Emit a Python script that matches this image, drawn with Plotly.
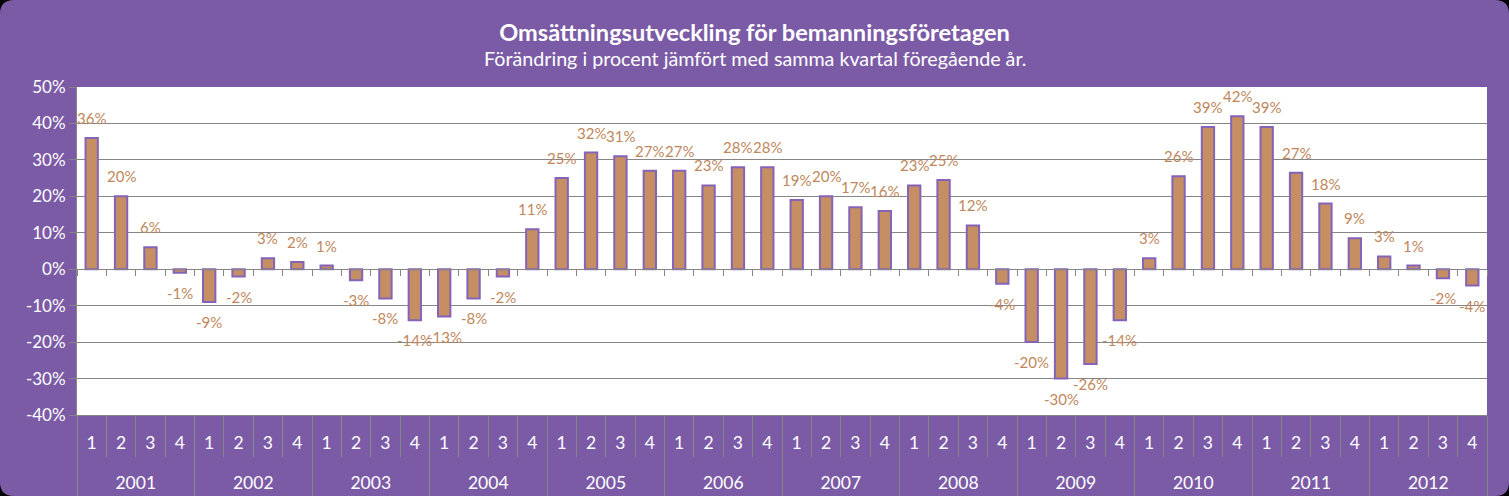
import plotly.graph_objects as go

years = ["2001", "2002", "2003", "2004", "2005", "2006", "2007", "2008", "2009", "2010", "2011", "2012"]
quarters = ["1", "2", "3", "4"]
values = [
    36, 20, 6, -1,
    -9, -2, 3, 2,
    1, -3, -8, -14,
    -13, -8, -2, 11,
    25, 32, 31, 27,
    27, 23, 28, 28,
    19, 20, 17, 16,
    23, 24.5, 12, -4,
    -20, -30, -26, -14,
    3, 25.5, 39, 42,
    39, 26.5, 18, 8.5,
    3.5, 1, -2.5, -4.5,
]
labels = [
    "36%", "20%", "6%", "-1%",
    "-9%", "-2%", "3%", "2%",
    "1%", "-3%", "-8%", "-14%",
    "-13%", "-8%", "-2%", "11%",
    "25%", "32%", "31%", "27%",
    "27%", "23%", "28%", "28%",
    "19%", "20%", "17%", "16%",
    "23%", "25%", "12%", "-4%",
    "-20%", "-30%", "-26%", "-14%",
    "3%", "26%", "39%", "42%",
    "39%", "27%", "18%", "9%",
    "3%", "1%", "-2%", "-4%",
]
yticks = [-40, -30, -20, -10, 0, 10, 20, 30, 40, 50]
ytick_text = ["-40%", "-30%", "-20%", "-10%", "0%", "10%", "20%", "30%", "40%", "50%"]

PURPLE = "#7B5BA6"
BAR = "#C68F63"
LABEL = "#C0875C"
GRID = "#868686"
FONT = "Lato, Calibri, sans-serif"

W, H = 1509, 496
ML, MR, MT, MB = 77, 22, 87, 81

nq = len(quarters)
n = len(values)
x_cat = [f"{y}-{q}" for y in years for q in quarters]
q_text = [q for _ in years for q in quarters]
q_bounds = [i - 0.5 for i in range(n + 1)]
y_bounds = [i * nq - 0.5 for i in range(len(years) + 1)]
y_centers = [i * nq + (nq - 1) / 2 for i in range(len(years))]
xr = [-0.5, n - 0.5]

fig = go.Figure()
fig.add_trace(go.Bar(
    x=x_cat, y=values,
    marker=dict(color=BAR, line=dict(color="#8463B8", width=2)),
    width=0.42, hoverinfo="skip", showlegend=False,
))
# invisible helper traces that carry the extra category/separator axes
for ax in ["x2", "x3", "x4"]:
    fig.add_trace(go.Scatter(x=xr, y=[0, 0], xaxis=ax, mode="markers",
                             marker=dict(opacity=0), showlegend=False, hoverinfo="skip"))

annotations = []
for c, v, t in zip(x_cat, values, labels):
    annotations.append(dict(
        x=c, y=v, xref="x", yref="y",
        text=t, showarrow=False, yanchor="middle",
        yshift=20 if v >= 0 else -20,
        font=dict(family=FONT, size=15, color=LABEL),
    ))

pw = W - ML - MR
ph = H - MT - MB
fx0, fx1 = -ML / pw, 1 + MR / pw
fy0, fy1 = -MB / ph, 1 + MT / ph
rx, ry = 14 / pw, 14 / ph
path = (f"M {fx0+rx},{fy1} L {fx1-rx},{fy1} Q {fx1},{fy1} {fx1},{fy1-ry} "
        f"L {fx1},{fy0+ry} Q {fx1},{fy0} {fx1-rx},{fy0} L {fx0+rx},{fy0} "
        f"Q {fx0},{fy0} {fx0},{fy0+ry} L {fx0},{fy1-ry} Q {fx0},{fy1} {fx0+rx},{fy1} Z")

shapes = [
    dict(type="path", path=path, xref="paper", yref="paper", fillcolor=PURPLE,
         line=dict(width=0), layer="below"),
    dict(type="rect", x0=0, x1=1, y0=0, y1=1, xref="paper", yref="paper",
         fillcolor="white", line=dict(width=0), layer="below"),
]

annotations.append(dict(
    text="Förändring i procent jämfört med samma kvartal föregående år.",
    xref="paper", yref="paper", x=0.5 - (ML - MR) / 2 / pw, y=(415 - 59) / ph,
    showarrow=False, yanchor="middle", xanchor="center",
    font=dict(family=FONT, size=19.7, color="white"),
))

fig.update_layout(
    width=W, height=H,
    margin=dict(l=ML, r=MR, t=MT, b=MB, autoexpand=False),
    paper_bgcolor="black",
    plot_bgcolor="rgba(0,0,0,0)",
    title=dict(text="<b>Omsättningsutveckling för bemanningsföretagen</b>",
               x=0.5, xref="container", xanchor="center",
               y=1 - 33 / H, yref="container", yanchor="middle",
               font=dict(family=FONT, size=23.6, color="white")),
    shapes=shapes,
    annotations=annotations,
    xaxis=dict(
        type="category", range=xr, automargin=False,
        tickvals=x_cat, ticktext=q_text,
        showline=True, linecolor=GRID, linewidth=1,
        ticks="", ticklabelstandoff=12,
        tickfont=dict(family=FONT, size=17.5, color="white"),
        showgrid=False, zeroline=False,
    ),
    # axis line with small ticks at the zero level
    xaxis2=dict(
        type="linear", overlaying="x", anchor="free", side="bottom",
        position=(0 - yticks[0]) / (yticks[-1] - yticks[0]), range=xr,
        tickvals=q_bounds, showline=True, linecolor=GRID, linewidth=1,
        ticks="outside", ticklen=6, tickcolor=GRID, automargin=False,
        showticklabels=False, showgrid=False, zeroline=False,
    ),
    # short separators between quarters
    xaxis3=dict(
        type="linear", overlaying="x", anchor="y", side="bottom", range=xr,
        tickvals=q_bounds, ticks="outside", ticklen=41, tickcolor=GRID,
        automargin=False,
        showticklabels=False, showgrid=False, zeroline=False, showline=False,
    ),
    # year labels with long separators between years
    xaxis4=dict(
        type="linear", overlaying="x", anchor="y", side="bottom", range=xr,
        tickvals=y_centers, ticktext=years, ticks="", ticklabelstandoff=55,
        tickfont=dict(family=FONT, size=17.5, color="white"), automargin=False,
        minor=dict(tickvals=y_bounds, ticks="outside", ticklen=81, tickcolor=GRID),
        showgrid=False, zeroline=False, showline=False,
    ),
    yaxis=dict(
        range=[yticks[0], yticks[-1]], tickvals=yticks, ticktext=ytick_text,
        showgrid=True, gridcolor=GRID, gridwidth=1, automargin=False,
        showline=True, linecolor=GRID, linewidth=1,
        ticks="outside", ticklen=7, tickcolor=GRID,
        zeroline=False,
        tickfont=dict(family=FONT, size=17, color="white"),
    ),
    font=dict(family=FONT),
)

fig.write_html("out.html")
